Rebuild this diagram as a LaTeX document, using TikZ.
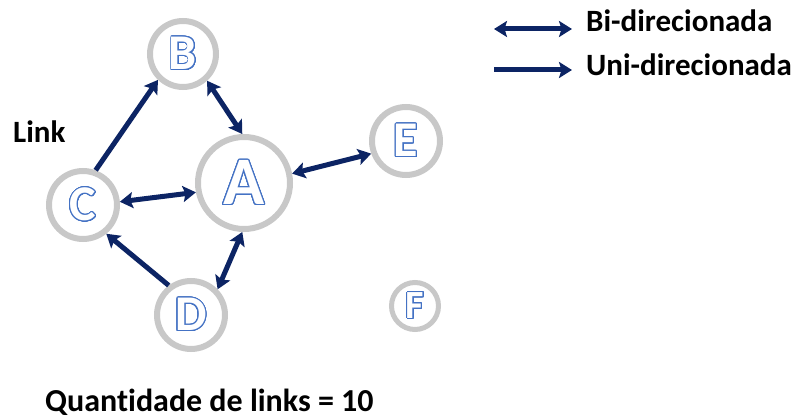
\documentclass[tikz,border=0pt]{standalone}
\usepackage{fontspec}
\setmainfont{Carlito}[Ligatures=NoCommon]
\usepackage{contour}
\usetikzlibrary{arrows.meta}
\definecolor{navy}{RGB}{12,36,100}
\definecolor{ringgray}{RGB}{200,200,200}
\definecolor{letterblue}{RGB}{68,114,196}
\contourlength{0.9pt}
\contournumber{32}
\newcommand{\olet}[1]{\contour{letterblue}{\textcolor{white}{#1}}}
\tikzset{
  nd/.style={circle, draw=ringgray, line width=6pt, fill=white, inner sep=0pt},
  conn/.style={draw=navy, line width=5pt},
  tip/.tip={Stealth[length=13pt,width=16pt,inset=2.5pt]},
  bi/.style={conn, tip-tip},
  uni/.style={conn, -tip},
  lbl/.style={font=\fontsize{31}{31}\selectfont\bfseries, inner sep=0pt, anchor=base west}
}
\begin{document}
\begin{tikzpicture}[x=1pt,y=-1pt]
\useasboundingbox (0,0) rectangle (802,419);
\node[nd, minimum size=92pt, font=\fontsize{68}{68}\selectfont\bfseries] (A) at (244,183) {\olet{A}};
\node[nd, minimum size=66pt, font=\fontsize{50}{50}\selectfont\bfseries] (B) at (183,54) {\olet{B}};
\node[nd, minimum size=68pt, font=\fontsize{50}{50}\selectfont\bfseries] (C) at (83,205) {\olet{C}};
\node[nd, minimum size=68pt, font=\fontsize{50}{50}\selectfont\bfseries] (D) at (191,315) {\olet{D}};
\node[nd, minimum size=68pt, font=\fontsize{50}{50}\selectfont\bfseries] (E) at (406,141) {\olet{E}};
\node[nd, line width=5pt, minimum size=47pt, font=\fontsize{40}{40}\selectfont\bfseries] (F) at (415,306) {\olet{F}};
\draw[uni] (C.70) -- (B.226);
\draw[bi] (B.-48) -- (A.92);
\draw[bi] (C.5) -- (A.191);
\draw[bi] (A.11) -- (E.200);
\draw[uni] (D.127) -- (C.-51);
\draw[bi] (D.44) -- (A.268);
\coordinate (b1) at (494,29);
\coordinate (b2) at (572,29);
\coordinate (u1) at (494,70);
\coordinate (u2) at (572,70);
\draw[bi] (b1) -- (b2);
\draw[uni] (u1) -- (u2);
\node[lbl] (bt) at (586,32) {Bi-direcionada};
\node[lbl] (ut) at (586,76) {Uni-direcionada};
\node[lbl] (link) at (13,143) {Link};
\node[lbl, font=\fontsize{32}{32}\selectfont\bfseries] (q) at (45,411) {Quantidade de links = 10};
\end{tikzpicture}
\end{document}
